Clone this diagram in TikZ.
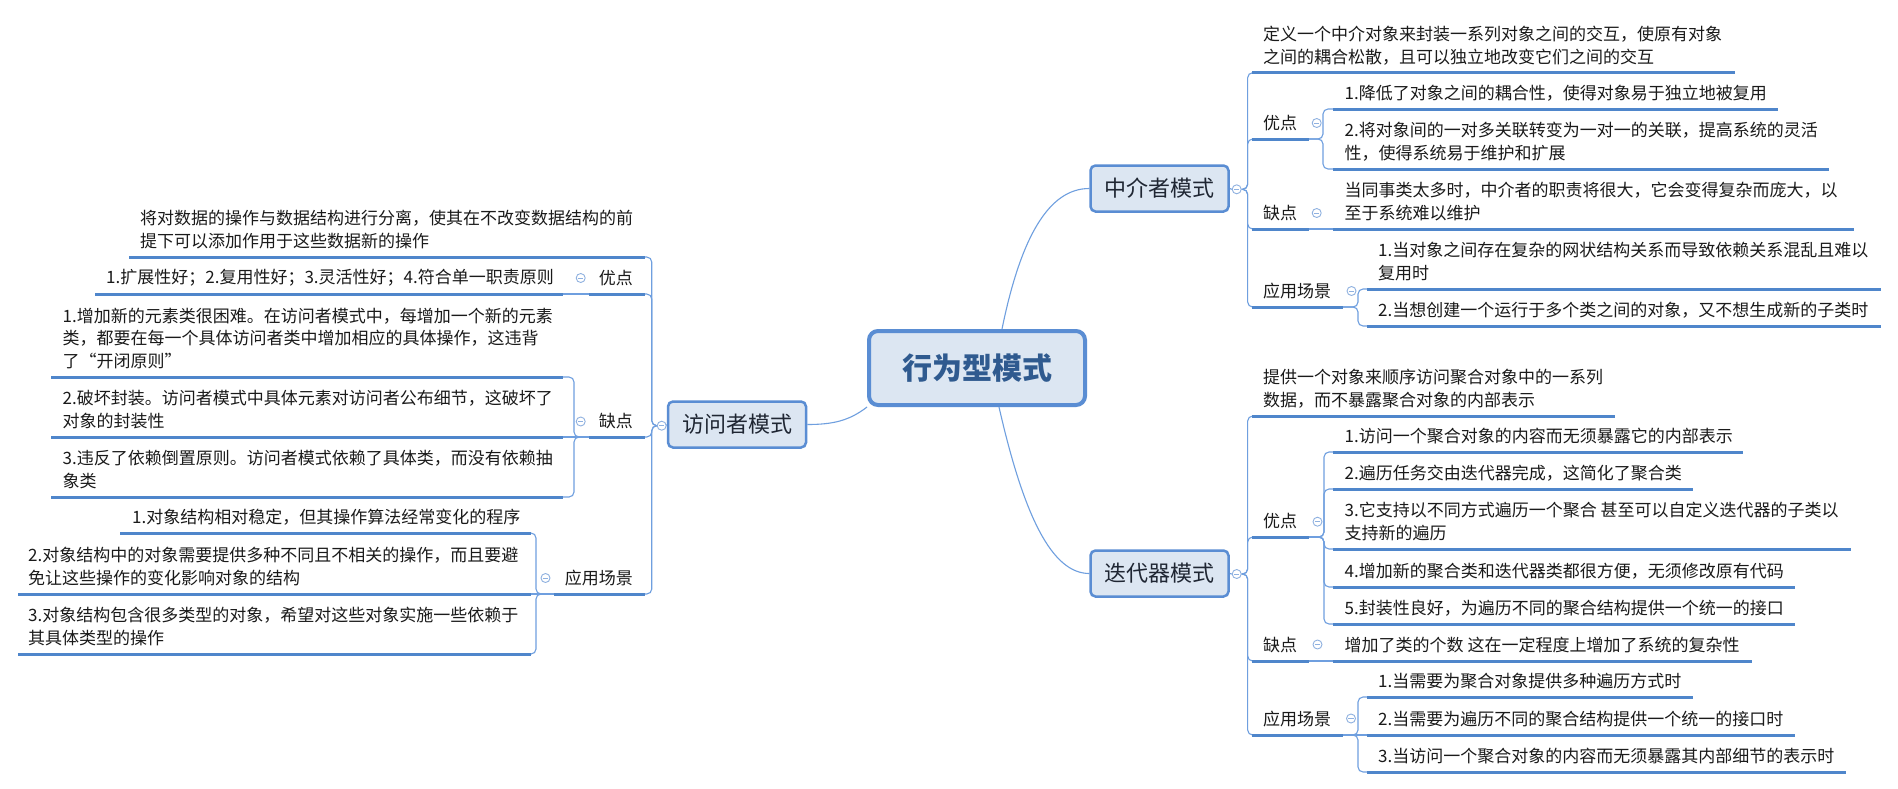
\documentclass[tikz,border=0pt]{standalone}
\usepackage{fontspec}
\setmainfont{Noto Sans CJK SC}
\pgfdeclarelayer{bg}
\pgfsetlayers{bg,main}
\definecolor{ulc}{HTML}{4F86CB}
\definecolor{connc}{HTML}{6F9FDF}
\definecolor{boxc}{HTML}{5A8DD3}
\definecolor{boxf}{HTML}{DCE6F2}
\definecolor{foldc}{HTML}{8FB1E0}
\definecolor{txtc}{HTML}{1A1A1A}
\definecolor{titlec}{HTML}{1F2633}
\definecolor{cenc}{HTML}{2F5A8F}
\newcommand\ulseg[4]{\draw[uline] (#2,#4) coordinate (#1L) -- (#3,#4) coordinate (#1R);}
\begin{document}
\begin{tikzpicture}[x=1pt,y=-1pt,
  txt/.style={inner sep=0pt, anchor=west, align=left, font=\fontsize{17}{22.7}\selectfont, text=txtc},
  txtr/.style={txt, anchor=east, align=right},
  uline/.style={draw=ulc, line width=3pt},
  conn/.style={draw=connc, line width=1.1pt},
  elbow/.style={conn, rounded corners=5pt},
  topic/.style={draw=boxc, fill=boxf, line width=2.5pt, rounded corners=5pt, minimum width=138pt, minimum height=46pt, font=\fontsize{22}{26}\selectfont, text=titlec, inner sep=0pt},
  central/.style={draw=boxc, fill=boxf, line width=4pt, rounded corners=9pt, minimum width=216pt, minimum height=74pt, font=\fontsize{30}{36}\selectfont\bfseries, text=cenc, inner sep=0pt},
  fold/.style={circle, draw=foldc, fill=white, line width=0.9pt, minimum size=9pt, inner sep=0pt,
    path picture={\draw[foldc, line width=0.9pt] ([xshift=-2.6pt]path picture bounding box.center) -- ([xshift=2.6pt]path picture bounding box.center);}}
]
\useasboundingbox (0,0) rectangle (1898,788);
\begin{pgfonlayer}{bg}
\fill[white] (0,0) rectangle (1898,788);
\end{pgfonlayer}

% main topics
\node[central] (cen) at (977,368) {行为型模式};
\node[topic] (vs) at (737,424.5) {访问者模式};
\node[topic] (mz) at (1159.5,188.5) {中介者模式};
\node[topic] (it) at (1159.5,573.5) {迭代器模式};

% underlines
\ulseg{md}{1252}{1735}{72.7}
\ulseg{mu}{1252}{1309}{139}
\ulseg{mu1}{1333}{1778}{109}
\ulseg{mu2}{1333}{1829}{169}
\ulseg{mq}{1252}{1309}{229}
\ulseg{mq1}{1333}{1854}{229}
\ulseg{ma}{1252}{1343}{307}
\ulseg{ma1}{1367}{1881}{289}
\ulseg{ma2}{1367}{1881}{326}

\ulseg{id}{1252}{1615}{416}
\ulseg{iu}{1252}{1309}{537}
\ulseg{iu1}{1333}{1743}{452}
\ulseg{iu2}{1333}{1693}{489}
\ulseg{iu3}{1333}{1851}{549}
\ulseg{iu4}{1333}{1795}{587}
\ulseg{iu5}{1333}{1795}{624}
\ulseg{iq}{1252}{1309}{661}
\ulseg{iq1}{1333}{1752}{661}
\ulseg{ia}{1252}{1343}{735}
\ulseg{ia1}{1367}{1693}{697}
\ulseg{ia2}{1367}{1795}{735}
\ulseg{ia3}{1367}{1846}{772}

\ulseg{vd}{129}{645}{257}
\ulseg{vu}{589}{645}{294}
\ulseg{vu1}{95}{563}{294}
\ulseg{vq}{589}{645}{437}
\ulseg{vq1}{51}{563}{377}
\ulseg{vq2}{51}{563}{437}
\ulseg{vq3}{51}{563}{497}
\ulseg{va}{553.5}{645}{594}
\ulseg{va1}{120}{531}{533}
\ulseg{va2}{18}{531}{594}
\ulseg{va3}{18}{531}{654}

% texts: mediator
\node[txt] (mdT) at (1263,45.35) {定义一个中介对象来封装一系列对象之间的交互，使原有对象\\之间的耦合松散，且可以独立地改变它们之间的交互};
\node[txt] (muT) at (1263,123) {优点};
\node[txt] (mu1T) at (1344.5,93) {1.降低了对象之间的耦合性，使得对象易于独立地被复用};
\node[txt] (mu2T) at (1344.5,141.65) {2.将对象间的一对多关联转变为一对一的关联，提高系统的灵活\\性，使得系统易于维护和扩展};
\node[txt] (mqT) at (1263,213) {缺点};
\node[txt] (mq1T) at (1344.5,201.65) {当同事类太多时，中介者的职责将很大，它会变得复杂而庞大，以\\至于系统难以维护};
\node[txt] (maT) at (1263,291) {应用场景};
\node[txt] (ma1T) at (1378,261.65) {1.当对象之间存在复杂的网状结构关系而导致依赖关系混乱且难以\\复用时};
\node[txt] (ma2T) at (1378,310) {2.当想创建一个运行于多个类之间的对象，又不想生成新的子类时};

% texts: iterator
\node[txt] (idT) at (1263,388.65) {提供一个对象来顺序访问聚合对象中的一系列\\数据，而不暴露聚合对象的内部表示};
\node[txt] (iuT) at (1263,521) {优点};
\node[txt] (iu1T) at (1344.5,436) {1.访问一个聚合对象的内容而无须暴露它的内部表示};
\node[txt] (iu2T) at (1344.5,473) {2.遍历任务交由迭代器完成，这简化了聚合类};
\node[txt] (iu3T) at (1344.5,521.65) {3.它支持以不同方式遍历一个聚合 甚至可以自定义迭代器的子类以\\支持新的遍历};
\node[txt] (iu4T) at (1344.5,571) {4.增加新的聚合类和迭代器类都很方便，无须修改原有代码};
\node[txt] (iu5T) at (1344.5,608) {5.封装性良好，为遍历不同的聚合结构提供一个统一的接口};
\node[txt] (iqT) at (1263,645) {缺点};
\node[txt] (iq1T) at (1344.5,645) {增加了类的个数 这在一定程度上增加了系统的复杂性};
\node[txt] (iaT) at (1263,719) {应用场景};
\node[txt] (ia1T) at (1378,681) {1.当需要为聚合对象提供多种遍历方式时};
\node[txt] (ia2T) at (1378,719) {2.当需要为遍历不同的聚合结构提供一个统一的接口时};
\node[txt] (ia3T) at (1378,756) {3.当访问一个聚合对象的内容而无须暴露其内部细节的表示时};

% texts: visitor
\node[txt] (vdT) at (140,229.65) {将对数据的操作与数据结构进行分离，使其在不改变数据结构的前\\提下可以添加作用于这些数据新的操作};
\node[txtr] (vuT) at (633,278) {优点};
\node[txt] (vu1T) at (106,278) {1.扩展性好；2.复用性好；3.灵活性好；4.符合单一职责原则};
\node[txtr] (vqT) at (633,421) {缺点};
\node[txt] (vq1T) at (62.5,338.3) {1.增加新的元素类很困难。在访问者模式中，每增加一个新的元素\\类，都要在每一个具体访问者类中增加相应的具体操作，这违背\\了“开闭原则”};
\node[txt] (vq2T) at (62.5,409.65) {2.破坏封装。访问者模式中具体元素对访问者公布细节，这破坏了\\对象的封装性};
\node[txt] (vq3T) at (62.5,469.65) {3.违反了依赖倒置原则。访问者模式依赖了具体类，而没有依赖抽\\象类};
\node[txtr] (vaT) at (633,578) {应用场景};
\node[txt] (va1T) at (132,517) {1.对象结构相对稳定，但其操作算法经常变化的程序};
\node[txt] (va2T) at (28,566.65) {2.对象结构中的对象需要提供多种不同且不相关的操作，而且要避\\免让这些操作的变化影响对象的结构};
\node[txt] (va3T) at (28,626.65) {3.对象结构包含很多类型的对象，希望对这些对象实施一些依赖于\\其具体类型的操作};

% fold circles
\node[fold] (vsF) at (661.7,425.7) {};
\node[fold] (vuF) at (580.7,278) {};
\node[fold] (vqF) at (580.7,421.5) {};
\node[fold] (vaF) at (545.5,578) {};
\node[fold] (mzF) at (1236.7,189.3) {};
\node[fold] (muF) at (1316.7,123) {};
\node[fold] (mqF) at (1316.7,213) {};
\node[fold] (maF) at (1351.5,291) {};
\node[fold] (itF) at (1236.7,574) {};
\node[fold] (iuF) at (1317.5,521.7) {};
\node[fold] (iqF) at (1317.5,644.5) {};
\node[fold] (iaF) at (1351,718.5) {};

\begin{pgfonlayer}{bg}
% central connectors
\draw[conn] ([xshift=25pt]cen.north) .. controls +(19,-93) and +(-40,0) .. (mz.west);
\draw[conn] ([xshift=22pt]cen.south) .. controls +(25,110) and +(-37,0) .. (it.west);
\draw[conn] (cen.south west) .. controls +(-18,14) and +(25,0) .. (vs.east);
% topic to fold
\draw[conn] (mz.east) -- (mzF.west);
\draw[conn] (it.east) -- (itF.west);
\draw[conn] (vs.west) -- (vsF.east);
% mediator
\foreach \c in {md,mu,mq,ma} \draw[elbow] (mzF.east) -- ++(6,0) |- (\c L);
\foreach \c in {mu1,mu2} \draw[elbow] (muR) -- ++(14,0) |- (\c L);
\draw[conn] (mqR) -- (mq1L);
\foreach \c in {ma1,ma2} \draw[elbow] (maR) -- ++(15,0) |- (\c L);
% iterator
\foreach \c in {id,iu,iq,ia} \draw[elbow] (itF.east) -- ++(6,0) |- (\c L);
\foreach \c in {iu1,iu2,iu3,iu4,iu5} \draw[elbow] (iuR) -- ++(15,0) |- (\c L);
\draw[conn] (iqR) -- (iq1L);
\foreach \c in {ia1,ia3} \draw[elbow] (iaR) -- ++(15,0) |- (\c L);
\draw[conn] (iaR) -- (ia2L);
% visitor
\foreach \c in {vd,vu,vq,va} \draw[elbow] (vsF.west) -- ++(-5,0) |- (\c R);
\draw[conn] (vuL) -- (vu1R);
\foreach \c in {vq1,vq3} \draw[elbow] (vqL) -- ++(-15,0) |- (\c R);
\draw[conn] (vqL) -- (vq2R);
\foreach \c in {va1,va3} \draw[elbow] (vaL) -- ++(-17.5,0) |- (\c R);
\draw[conn] (vaL) -- (va2R);
\end{pgfonlayer}
\end{tikzpicture}
\end{document}
